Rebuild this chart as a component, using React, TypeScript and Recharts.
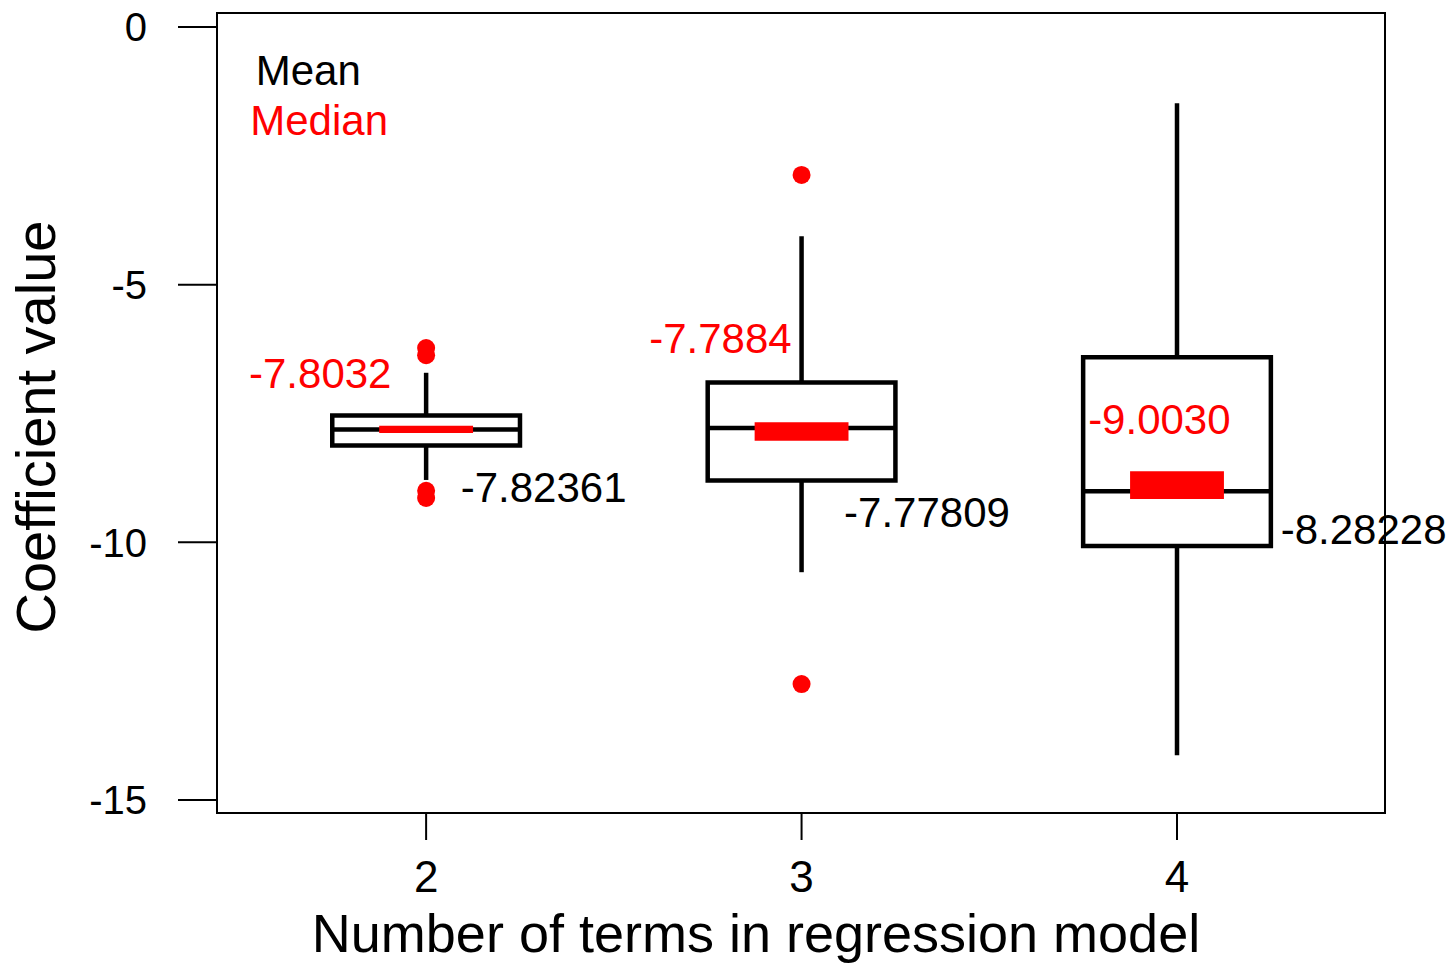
import { ComposedChart, XAxis, YAxis, Scatter, ReferenceArea, ReferenceLine, ReferenceDot } from 'recharts'

// number of terms in the model
const groups = [2, 3, 4]
// box statistics
const q1 = [-8.12, -8.8, -10.07]
const q3 = [-7.54, -6.9, -6.41]
const medians = [-7.81, -7.78, -9.01]
const whiskerLow = [-8.79, -10.58, -14.13]
const whiskerHigh = [-6.71, -4.06, -1.48]
// red band around the median
const redLow = [-7.88, -8.03, -9.16]
const redHigh = [-7.74, -7.67, -8.62]
const outliers = [
  { x: 2, y: -6.23 },
  { x: 2, y: -6.37 },
  { x: 2, y: -9.0 },
  { x: 2, y: -9.14 },
  { x: 3, y: -2.87 },
  { x: 3, y: -12.75 },
]
const meanText = ['-7.82361', '-7.77809', '-8.28228']
const medianText = ['-7.8032', '-7.7884', '-9.0030']
// where the annotations sit, in data units
const meanTextAt = [
  { x: 2.313, y: -8.93 },
  { x: 3.334, y: -9.41 },
  { x: 4.497, y: -9.74 },
]
const medianTextAt = [
  { x: 1.718, y: -6.71 },
  { x: 2.784, y: -6.04 },
  { x: 3.953, y: -7.61 },
]
const xTicks = [2, 3, 4]
const yTicks = [0, -5, -10, -15]

const X_DOMAIN: [number, number] = [1.443, 4.554]
const Y_DOMAIN: [number, number] = [-15.253, 0.272]
const BOX_HALF = 0.25
const RED_HALF = 0.125
const LW = 4.5

export default function App() {
  return (
    <div style={{ position: 'absolute', left: 0, top: 0, width: 1450, height: 963, background: '#fff', fontFamily: '"Liberation Sans", Arial, sans-serif' }}>
      <ComposedChart width={1450} height={963} margin={{ top: 13, right: 65, bottom: 0, left: 0 }}>
        <XAxis
          type="number"
          dataKey="x"
          domain={X_DOMAIN}
          ticks={xTicks}
          interval={0}
          allowDataOverflow
          height={150}
          axisLine={false}
          tickSize={27}
          tickMargin={21}
          tickLine={{ stroke: '#000', strokeWidth: 2 }}
          tick={{ fill: '#000', fontSize: 44 }}
          label={{ value: 'Number of terms in regression model', position: 'insideBottom', offset: 11, dx: -45, fill: '#000', fontSize: 54 }}
        />
        <YAxis
          type="number"
          domain={Y_DOMAIN}
          ticks={yTicks}
          interval={0}
          allowDataOverflow
          width={217}
          axisLine={false}
          tickSize={39}
          tickMargin={31}
          tickLine={{ stroke: '#000', strokeWidth: 2 }}
          tick={{ fill: '#000', fontSize: 40 }}
          label={{ value: 'Coefficient value', angle: -90, position: 'insideLeft', offset: 35, dy: 14, fill: '#000', fontSize: 56, style: { textAnchor: 'middle' } }}
        />

        <ReferenceArea x1={X_DOMAIN[0]} x2={X_DOMAIN[1]} y1={Y_DOMAIN[0]} y2={Y_DOMAIN[1]} fill="none" stroke="#000" strokeWidth={2} ifOverflow="visible" />

        {groups.map((g, i) => (
          <ReferenceLine key={'wh' + g} segment={[{ x: g, y: q3[i] }, { x: g, y: whiskerHigh[i] }]} stroke="#000" strokeWidth={LW} />
        ))}
        {groups.map((g, i) => (
          <ReferenceLine key={'wl' + g} segment={[{ x: g, y: q1[i] }, { x: g, y: whiskerLow[i] }]} stroke="#000" strokeWidth={LW} />
        ))}
        {groups.map((g, i) => (
          <ReferenceArea key={'box' + g} x1={g - BOX_HALF} x2={g + BOX_HALF} y1={q1[i]} y2={q3[i]} fill="none" stroke="#000" strokeWidth={LW} />
        ))}
        {groups.map((g, i) => (
          <ReferenceLine key={'med' + g} segment={[{ x: g - BOX_HALF, y: medians[i] }, { x: g + BOX_HALF, y: medians[i] }]} stroke="#000" strokeWidth={LW} />
        ))}
        {groups.map((g, i) => (
          <ReferenceArea key={'red' + g} x1={g - RED_HALF} x2={g + RED_HALF} y1={redLow[i]} y2={redHigh[i]} fill="#ff0000" fillOpacity={1} stroke="none" zIndex={900} />
        ))}

        <Scatter
          data={outliers}
          dataKey="y"
          isAnimationActive={false}
          fill="#ff0000"
          shape={(p: any) => <circle cx={p.cx} cy={p.cy} r={9} fill="#ff0000" />}
        />

        {groups.map((g, i) => (
          <ReferenceDot key={'mt' + g} x={meanTextAt[i].x} y={meanTextAt[i].y} r={0} fill="none" stroke="none" ifOverflow="visible"
            label={{ value: meanText[i], position: 'center', fill: '#000', fontSize: 42 }} />
        ))}
        {groups.map((g, i) => (
          <ReferenceDot key={'dt' + g} x={medianTextAt[i].x} y={medianTextAt[i].y} r={0} fill="none" stroke="none" ifOverflow="visible"
            label={{ value: medianText[i], position: 'center', fill: '#ff0000', fontSize: 42 }} />
        ))}
        <ReferenceDot x={1.686} y={-0.834} r={0} fill="none" stroke="none" label={{ value: 'Mean', position: 'center', fill: '#000', fontSize: 42 }} />
        <ReferenceDot x={1.715} y={-1.805} r={0} fill="none" stroke="none" label={{ value: 'Median', position: 'center', fill: '#ff0000', fontSize: 42 }} />
      </ComposedChart>
    </div>
  )
}
